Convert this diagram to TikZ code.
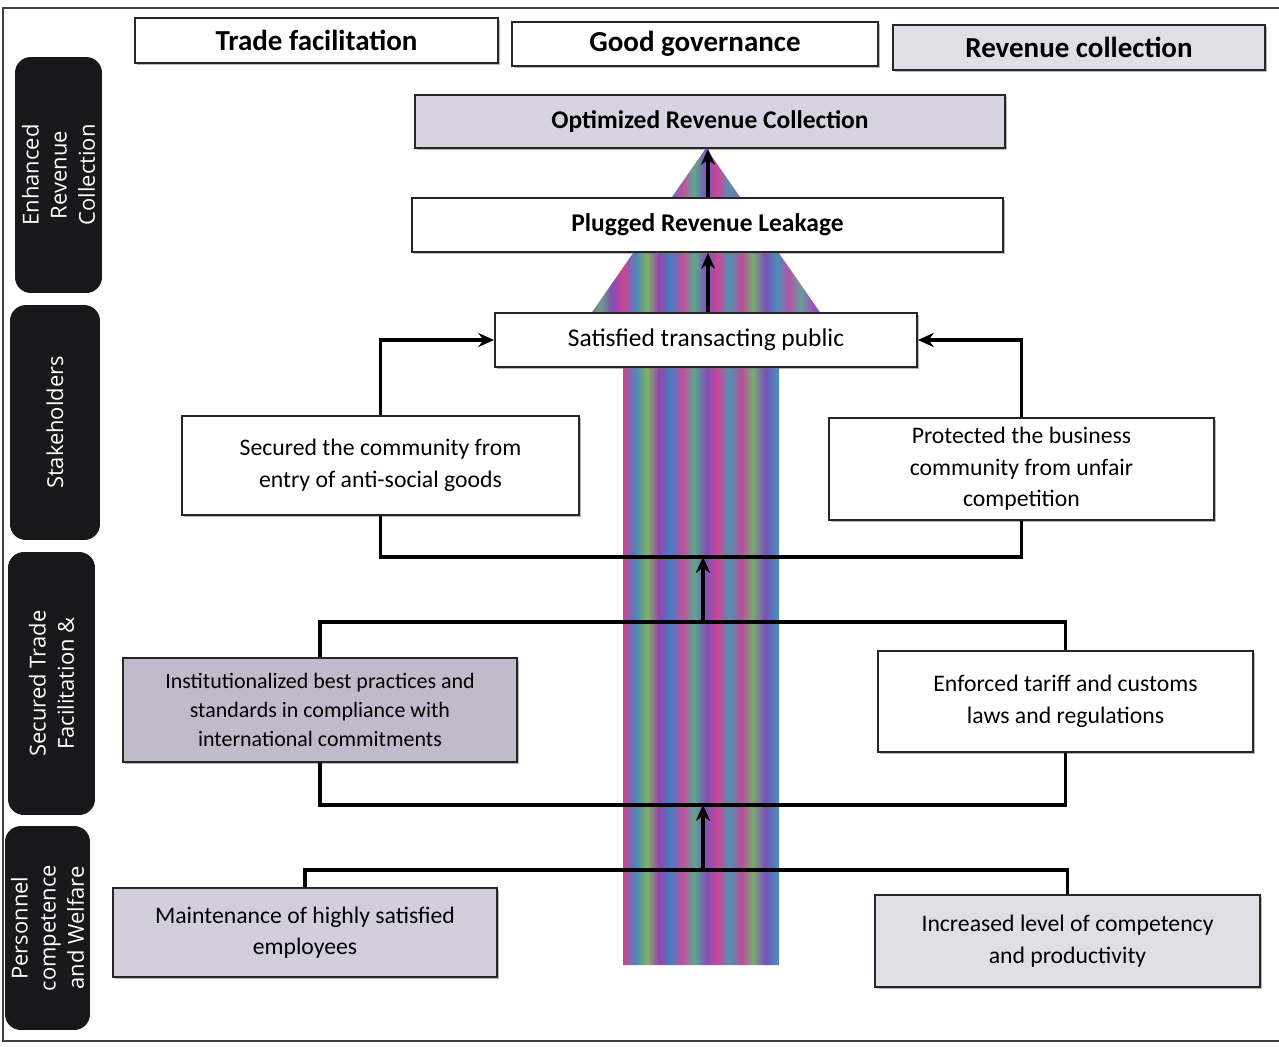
\documentclass[tikz,border=0pt]{standalone}
\usepackage{fontspec}
\setmainfont{Carlito}
\newfontfamily\sidefont{Open Sans}
\usetikzlibrary{arrows.meta,shadows,calc}
\pgfdeclarehorizontalshading{arrowstripes}{100bp}{
 rgb(0bp)=(0.68,0.28,0.62);
 rgb(25bp)=(0.68,0.28,0.62);
 rgb(27.5bp)=(0.40,0.64,0.52);
 rgb(30bp)=(0.52,0.30,0.70);
 rgb(32.5bp)=(0.80,0.26,0.58);
 rgb(35bp)=(0.30,0.52,0.74);
 rgb(37.5bp)=(0.50,0.70,0.40);
 rgb(40bp)=(0.58,0.26,0.68);
 rgb(42.5bp)=(0.26,0.50,0.76);
 rgb(45bp)=(0.78,0.30,0.62);
 rgb(47.5bp)=(0.36,0.66,0.56);
 rgb(50bp)=(0.50,0.32,0.72);
 rgb(52.5bp)=(0.80,0.28,0.60);
 rgb(55bp)=(0.30,0.58,0.70);
 rgb(57.5bp)=(0.74,0.30,0.60);
 rgb(60bp)=(0.46,0.68,0.46);
 rgb(62.5bp)=(0.48,0.30,0.72);
 rgb(65bp)=(0.28,0.56,0.72);
 rgb(67.5bp)=(0.72,0.32,0.66);
 rgb(70bp)=(0.40,0.62,0.60);
 rgb(72.5bp)=(0.62,0.32,0.70);
 rgb(75bp)=(0.56,0.38,0.70);
 rgb(100bp)=(0.56,0.38,0.70)}
\definecolor{speckA}{RGB}{216,211,224}
\definecolor{speckB}{RGB}{192,186,204}
\definecolor{speckC}{RGB}{210,206,220}
\definecolor{speckD}{RGB}{224,222,230}
\definecolor{sidebg}{RGB}{24,24,26}
\begin{document}
\begin{tikzpicture}[x=0.02cm,y=-0.02cm,
  box/.style={draw=black!85, line width=1.1pt, fill=white, align=center, inner sep=2pt,
    font=\fontsize{13.5}{18}\selectfont,
    drop shadow={shadow xshift=1.3pt,shadow yshift=-1.3pt,fill=black!55}},
  hdr/.style={box, font=\fontsize{16.5}{19}\selectfont\bfseries},
  sidebox/.style={fill=sidebg, rounded corners=9pt, rotate=90, align=center, text=white,
    inner sep=1pt, font=\sidefont\fontsize{12.5}{16}\selectfont},
  conn/.style={draw=black, line width=1.8pt},
  arr/.style={conn, -{Stealth[length=9pt,width=8pt]}}
]
\useasboundingbox (0,0) rectangle (1279,1046);
\fill[white] (0,0) rectangle (1279,1046);
% frame
\draw[line width=1.2pt, black!75] (1279,8) -- (3,8) -- (3,1041) -- (1279,1041);

% big arrow
\shade[shading=arrowstripes] (623,965) -- (623,318) -- (588,318) -- (706,148) -- (824,318) -- (779,318) -- (779,965) -- cycle;

% bracket junction points
\coordinate (sb) at (703,557);
\coordinate (tt) at (703,622);
\coordinate (tb) at (703,805);
\coordinate (pt) at (703,870);

% header boxes
\node[hdr, minimum width=7.26cm, minimum height=0.9cm] (trade) at (316.5,40.5) {Trade facilitation};
\node[hdr, minimum width=7.32cm, minimum height=0.88cm] (good) at (695,44) {Good governance};
\node[hdr, fill=speckD, minimum width=7.44cm, minimum height=0.9cm] (rev) at (1079,47.5) {Revenue collection};

% side labels
\node[sidebox, minimum width=4.72cm, minimum height=1.74cm] (s1) at (58.5,175) {Enhanced\\Revenue\\Collection};
\node[sidebox, minimum width=4.7cm, minimum height=1.8cm] (s2) at (55,422.5) {Stakeholders};
\node[sidebox, minimum width=5.26cm, minimum height=1.74cm] (s3) at (51.5,683.5) {Secured Trade\\Facilitation \&};
\node[sidebox, minimum width=4.08cm, minimum height=1.7cm] (s4) at (47.5,928) {Personnel\\competence\\and Welfare};

% centre boxes
\node[box, fill=speckA, font=\fontsize{14.5}{18}\selectfont\bfseries, minimum width=11.8cm, minimum height=1.06cm] (opt) at (710,121.5) {Optimized Revenue Collection};
\node[box, font=\fontsize{14.5}{18}\selectfont\bfseries, minimum width=11.82cm, minimum height=1.08cm] (plug) at (707.5,225) {Plugged Revenue Leakage};
\node[box, font=\fontsize{14.5}{18}\selectfont, minimum width=8.44cm, minimum height=1.08cm] (sat) at (706,340) {Satisfied transacting public};
\node[box, minimum width=7.94cm, minimum height=1.98cm] (secured) at (380.5,465.5) {Secured the community from\\entry of anti-social goods};
\node[box, minimum width=7.7cm, minimum height=2.04cm] (protected) at (1021.5,469) {Protected the business\\community from unfair\\competition};
\node[box, fill=speckB, font=\fontsize{12.5}{16.5}\selectfont, minimum width=7.88cm, minimum height=2.08cm] (inst) at (320,710) {Institutionalized best practices and\\standards in compliance with\\international commitments};
\node[box, minimum width=7.5cm, minimum height=2.02cm] (enforced) at (1065.5,701.5) {Enforced tariff and customs\\laws and regulations};
\node[box, fill=speckC, minimum width=7.68cm, minimum height=1.78cm] (maint) at (305,932.5) {Maintenance of highly satisfied\\employees};
\node[box, fill=speckD, minimum width=7.7cm, minimum height=1.84cm] (incr) at (1067.5,941) {Increased level of competency\\and productivity};

% connectors
\draw[conn] (secured.south) |- (sb) -| (protected.south);
\draw[arr] (tt) -- (sb);
\draw[conn] (inst.north) |- (tt) -| (enforced.north);
\draw[conn] (inst.south) |- (tb) -| (enforced.south);
\draw[arr] (pt) -- (tb);
\draw[conn] (maint.north) |- (pt) -| (incr.north);
\draw[arr] (sat.north -| 708,0) -- (plug.south -| 708,0);
\draw[arr] (plug.north -| 708,0) -- (opt.south -| 708,0);
\draw[arr] (secured.north) |- (sat.west);
\draw[arr] (protected.north) |- (sat.east);
\end{tikzpicture}
\end{document}
